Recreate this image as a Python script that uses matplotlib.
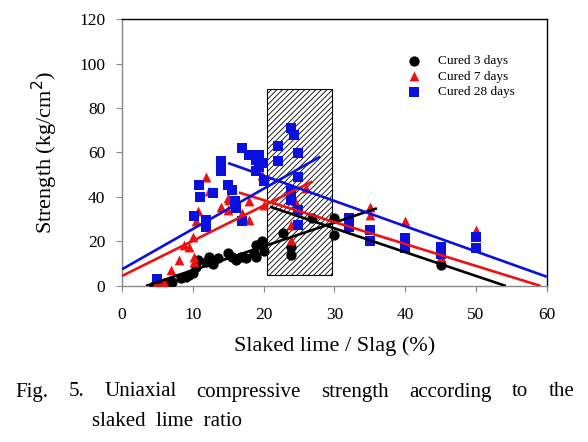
import matplotlib
matplotlib.use("Agg")
import matplotlib.pyplot as plt
from matplotlib.patches import Rectangle
import matplotlib as mpl

mpl.rcParams['hatch.linewidth'] = 0.6

# ---------------- data ----------------
x_3d = [4.5, 5.7, 7.1, 8.3, 9.5, 10.4, 10.7, 11.8, 12.3, 13.5, 14.9, 16.1, 16.8, 17.5,
        18.7, 18.9, 19.8, 20.1, 18.9, 19.6, 22.7, 23.9, 23.9, 26.9, 30.0, 30.0, 45.0,
        6.5, 9.0, 10.0, 12.8, 15.5]
y_3d = [0.0, 0.5, 2.0, 3.5, 5.0, 8.7, 11.7, 11.0, 13.2, 12.5, 14.7, 11.7, 13.2, 12.5,
        14.7, 18.5, 20.0, 15.5, 13.2, 19.2, 23.7, 17.7, 14.0, 30.5, 30.5, 23.0, 9.5,
        1.0, 4.0, 6.0, 10.0, 13.0]

x_7d = [5.0, 6.0, 6.9, 8.0, 8.8, 9.5, 10.0, 10.2, 10.2, 10.5, 10.7, 11.9, 12.3, 14.0,
        14.9, 14.9, 15.1, 17.0, 18.0, 18.0, 19.8, 20.1, 23.9, 23.9, 24.5, 26.0,
        35.0, 35.0, 40.0, 45.0, 50.0]
y_7d = [2.0, 2.0, 7.2, 11.7, 18.5, 17.7, 22.2, 13.2, 11.0, 29.0, 33.5, 49.2, 42.5, 35.7,
        34.2, 39.5, 38.7, 32.7, 38.0, 29.7, 50.0, 36.5, 27.5, 20.7, 38.0, 44.0,
        35.7, 32.0, 29.0, 13.0, 25.2]

x_28d = [5.0, 10.2, 10.9, 11.0, 11.8, 11.8, 12.9, 14.0, 14.0, 14.9, 15.6, 16.0, 16.1,
         17.0, 17.0, 18.0, 18.9, 18.9, 19.4, 19.4, 19.9, 20.0, 22.0, 22.0, 23.9, 24.3,
         24.8, 24.8, 23.9, 23.9, 24.8, 24.8,
         32.0, 32.0, 35.0, 35.0, 40.0, 40.0, 45.0, 45.0, 50.0, 50.0]
y_28d = [3.0, 31.5, 45.5, 40.0, 29.7, 26.7, 42.0, 56.0, 51.5, 45.5, 43.0, 38.0, 35.0,
         62.0, 29.0, 59.0, 56.8, 51.5, 59.0, 53.7, 55.3, 47.0, 62.8, 56.0, 71.0, 68.0,
         59.8, 49.2, 42.5, 38.7, 34.2, 27.5,
         30.5, 26.7, 25.2, 20.0, 21.5, 17.0, 17.7, 14.4, 22.2, 17.0]

# trend lines: (x_start, x_end, slope, intercept)
trend_3d = [(3.4, 36.0, 1.07, -3.6), (20.9, 54.2, -1.07, 58.0)]
trend_7d = [(0.0, 26.9, 1.58, 4.5), (16.5, 59.1, -0.986, 58.3)]
trend_28d = [(0.0, 28.0, 1.81, 7.5), (15.0, 60.0, -1.136, 72.3)]

# hatched zone (x0, x1, y0, y1)
zone = (20.5, 29.7, 5.0, 88.5)

xticks = [0, 10, 20, 30, 40, 50, 60]
yticks = [0, 20, 40, 60, 80, 100, 120]
labels = ["Cured 3 days", "Cured 7 days", "Cured 28 days"]
caption_line1 = ["Fig.", "5.", "Uniaxial", "compressive", "strength", "according", "to", "the"]
caption_line2 = "slaked  lime  ratio"

c_black = "#000000"
c_red = "#ee1111"
c_blue = "#0a10e0"

# ---------------- figure ----------------
serif = ["Liberation Serif", "DejaVu Serif"]
plt.rcParams['font.family'] = serif
fig = plt.figure(figsize=(5.88, 4.42), dpi=100)
ax = fig.add_axes([0.2075, 0.353, 0.7225, 0.604])

ax.add_patch(Rectangle((zone[0], zone[2]), zone[1] - zone[0], zone[3] - zone[2],
                       facecolor="white", edgecolor="black", hatch="//////",
                       linewidth=0.8, zorder=1))

h3 = ax.scatter(x_3d, y_3d, s=55, marker="o", color=c_black, zorder=3, linewidths=0)
h7 = ax.scatter(x_7d, y_7d, s=50, marker="^", color=c_red, zorder=4, linewidths=0)
h28 = ax.scatter(x_28d, y_28d, s=45, marker="s", color=c_blue, zorder=5, linewidths=0)

for trends, col in ((trend_3d, c_black), (trend_7d, c_red), (trend_28d, c_blue)):
    for x0, x1, m, b in trends:
        ax.plot([x0, x1], [m * x0 + b, m * x1 + b], color=col, lw=1.9, zorder=6,
                solid_capstyle="butt")

ax.set_xlim(0, 60)
ax.set_ylim(0, 120)
ax.set_xticks(xticks)
ax.set_yticks(yticks)
ax.tick_params(direction="out", length=4, color="#888888", labelsize=12.5)
ax.tick_params(axis="x", pad=11)
ax.tick_params(axis="y", pad=8)
for s in ("left", "bottom"):
    ax.spines[s].set_color("#888888")
    ax.spines[s].set_linewidth(1.0)
for s in ("top", "right"):
    ax.spines[s].set_color("black")
    ax.spines[s].set_linewidth(1.0)

ax.set_xlabel("Slaked lime / Slag (%)", fontsize=16, labelpad=10)
ax.set_ylabel("Strength (kg/cm$^2$)", fontsize=16, labelpad=14)

leg = ax.legend([h3, h7, h28], labels, loc="upper left", bbox_to_anchor=(0.645, 0.885),
                frameon=False, fontsize=9.5, handletextpad=0.8, labelspacing=0.25,
                scatterpoints=1, borderaxespad=0)

# caption: first line justified between x=15 px and x=574 px
cap_fs = 15
W, H = 588, 442
y1 = 1 - 392 / H
renderer = fig.canvas.get_renderer()
texts = [fig.text(0, y1, w, fontsize=cap_fs, va="center", ha="left") for w in caption_line1]
widths = [t.get_window_extent(renderer).width for t in texts]
left, right = 15.0, 574.0
gap = (right - left - sum(widths)) / (len(texts) - 1)
xpos = left
for t, wdt in zip(texts, widths):
    t.set_x(xpos / W)
    xpos += wdt + gap
fig.text(92 / W, 1 - 422 / H, caption_line2, fontsize=cap_fs, va="center", ha="left")

fig.savefig("out.png", dpi=100)
